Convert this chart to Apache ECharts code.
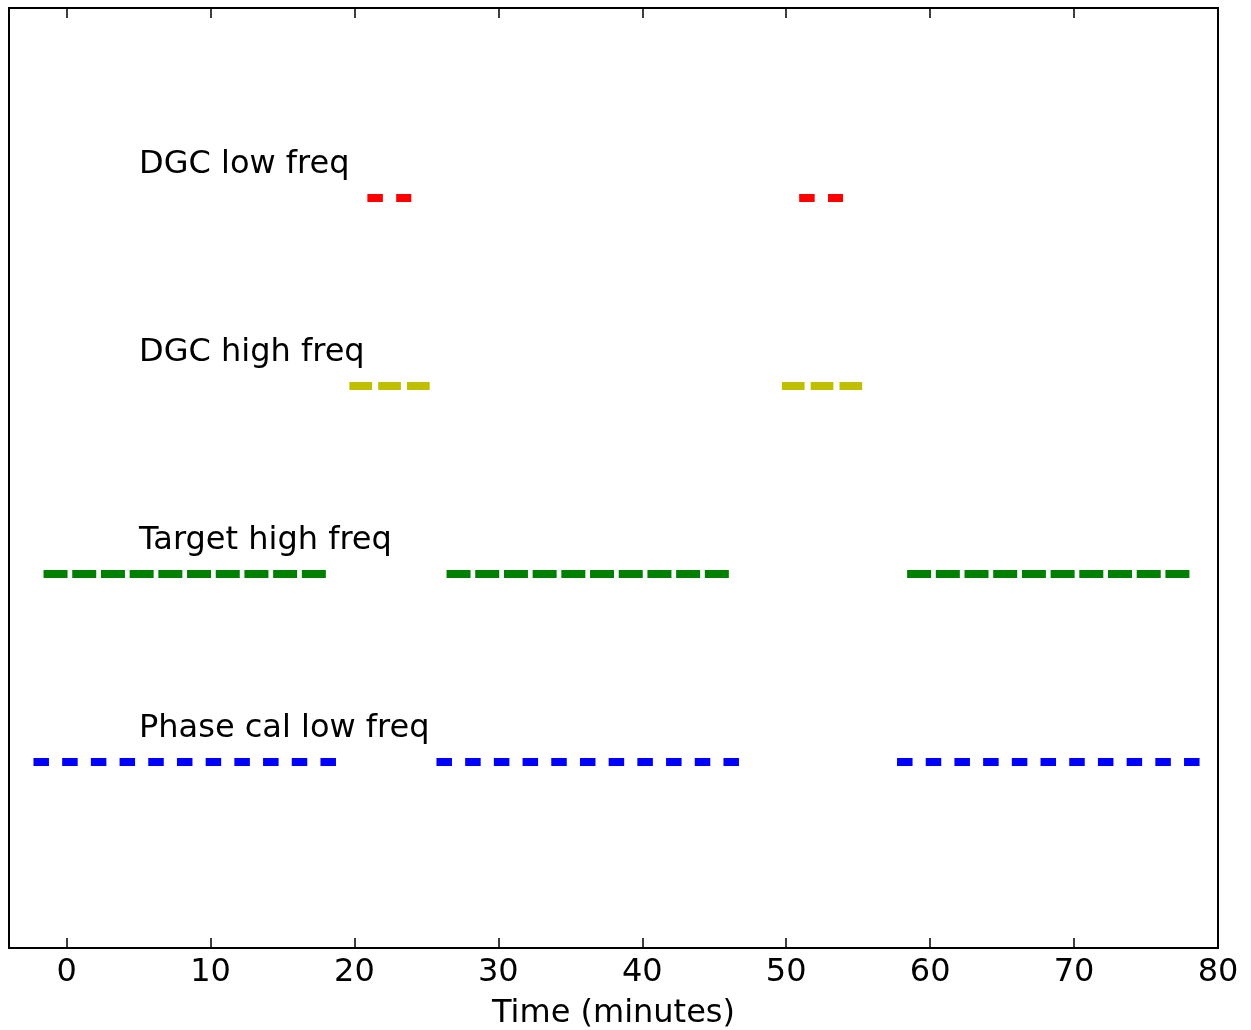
<!DOCTYPE html>
<html>
<head>
<meta charset="utf-8">
<script src="https://cdn.jsdelivr.net/npm/echarts@6/dist/echarts.min.js"></script>
<style>
html,body{margin:0;padding:0;background:#fff;}
#chart{width:1251px;height:1030px;}
</style>
</head>
<body>
<div id="chart"></div>
<script>
// Row names (bottom to top) and their y positions
const rowNames = ['Phase cal low freq', 'Target high freq', 'DGC high freq', 'DGC low freq'];
const rowY = [1, 2, 3, 4];
const rowColors = ['#0000ff', '#008000', '#bfbf00', '#ff0000'];

// Segment start/end times (minutes) per row
const phaseCalStarts = [-2.3, 25.7, 57.7];
const phaseCalEnds   = [18.75, 46.75, 78.75];
const targetStarts   = [-1.6, 26.4, 58.4];
const targetEnds     = [18.05, 46.05, 78.05];
const dgcHighStarts  = [19.65, 49.7];
const dgcHighEnds    = [25.25, 55.3];
const dgcLowStarts   = [20.9, 50.9];
const dgcLowEnds     = [23.95, 53.95];

const xTicks = [0, 10, 20, 30, 40, 50, 60, 70, 80];
const labelX = 5;

const rowsStarts = [phaseCalStarts, targetStarts, dgcHighStarts, dgcLowStarts];
const rowsEnds = [phaseCalEnds, targetEnds, dgcHighEnds, dgcLowEnds];
const rowDash = [[15.5, 13.2], [24, 4.7], [22.7, 6.1], [15.5, 13.3]];

const series = [];
rowsStarts.forEach((starts, r) => {
  starts.forEach((s, i) => {
    series.push({
      type: 'line',
      data: [[s, rowY[r]], [rowsEnds[r][i], rowY[r]]],
      symbol: 'none',
      silent: true,
      animation: false,
      lineStyle: { color: rowColors[r], width: 8, type: rowDash[r], cap: 'butt' }
    });
  });
});
series.push({
  type: 'scatter',
  symbol: 'circle',
  symbolSize: 1,
  itemStyle: { color: 'rgba(0,0,0,0)' },
  silent: true,
  animation: false,
  data: rowNames.map((n, r) => ({ value: [labelX, rowY[r] + 0.175], name: n })),
  label: {
    show: true,
    position: 'right',
    distance: 0,
    align: 'left',
    verticalAlign: 'middle',
    formatter: p => p.name,
    color: '#000000',
    opacity: 1,
    fontFamily: 'DejaVu Sans',
    fontSize: 32
  }
});

const chart = echarts.init(document.getElementById('chart'), null, { renderer: 'canvas' });
chart.setOption({
  backgroundColor: '#fff',
  animation: false,
  grid: { left: 9, right: 33, top: 8, bottom: 82, outerBoundsMode: 'none', containLabel: false, show: true, borderColor: '#000', borderWidth: 2, backgroundColor: 'transparent' },
  xAxis: [{
    type: 'value', min: -4, max: 80, position: 'bottom',
    name: 'Time (minutes)', nameLocation: 'middle', nameGap: 50,
    nameTextStyle: { fontFamily: 'DejaVu Sans', fontSize: 32, color: '#000' },
    axisLine: { show: true, onZero: false, lineStyle: { color: '#000', width: 2 } },
    axisTick: { show: true, inside: true, length: 10, customValues: xTicks, lineStyle: { color: '#000', width: 1.5 } },
    axisLabel: { show: true, customValues: xTicks, margin: 9, fontFamily: 'DejaVu Sans', fontSize: 32, color: '#000' },
    splitLine: { show: false }
  }, {
    type: 'value', min: -4, max: 80, position: 'top',
    axisLine: { show: true, onZero: false, lineStyle: { color: '#000', width: 2 } },
    axisTick: { show: true, inside: true, length: 10, customValues: xTicks, lineStyle: { color: '#000', width: 1.5 } },
    axisLabel: { show: false },
    splitLine: { show: false }
  }],
  yAxis: {
    type: 'value', min: 0.01, max: 5.01,
    axisLine: { show: false, onZero: false },
    axisTick: { show: false }, axisLabel: { show: false }, splitLine: { show: false }
  },
  series: series
});
</script>
</body>
</html>
